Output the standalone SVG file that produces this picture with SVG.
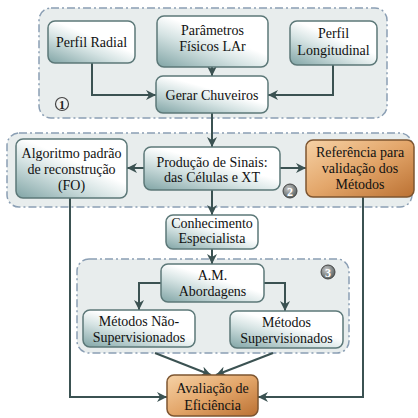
<svg xmlns="http://www.w3.org/2000/svg" width="418" height="418" viewBox="0 0 418 418">
<defs>
<linearGradient id="gNode" x1="0" y1="1" x2="0.75" y2="0.1">
<stop offset="0" stop-color="#80a4a5"/>
<stop offset="0.45" stop-color="#d5e3e3"/>
<stop offset="0.7" stop-color="#ffffff"/>
<stop offset="1" stop-color="#ffffff"/>
</linearGradient>
<linearGradient id="gOrange" x1="0" y1="0" x2="1" y2="1">
<stop offset="0" stop-color="#f6d2a6"/>
<stop offset="0.5" stop-color="#e3a66a"/>
<stop offset="1" stop-color="#bb7133"/>
</linearGradient>
<radialGradient id="gDark" cx="0.4" cy="0.35" r="0.7">
<stop offset="0" stop-color="#c8c8c8"/>
<stop offset="1" stop-color="#505a5a"/>
</radialGradient>
<marker id="arr" viewBox="0 0 10 10" refX="10" refY="5" markerWidth="5" markerHeight="5" orient="auto" markerUnits="strokeWidth">
<path d="M0,0 L10,5 L0,10 L3,5 Z" fill="#3b5252"/>
</marker>
<style>
.grp{fill:#e8eded;stroke:#8b9fb4;stroke-width:1.5;stroke-dasharray:8 3 2 3;}
.node{fill:url(#gNode);stroke:#5c7878;stroke-width:1.5;}
.onode{fill:url(#gOrange);stroke:#7d5530;stroke-width:1.5;}
.lbl{font-family:"Liberation Serif","Times New Roman",serif;font-size:14px;fill:#111;text-anchor:middle;}
.con{fill:none;stroke:#3b5252;stroke-width:2;marker-end:url(#arr);}
.num{font-family:"Liberation Serif",serif;font-size:12px;text-anchor:middle;font-weight:bold;}
</style>
</defs>

<g id="group1">
<rect class="grp" x="39" y="8" width="348" height="110" rx="12"/>
<circle cx="62" cy="104" r="6.5" fill="#eef0f0" stroke="#444" stroke-width="1.2"/>
<text class="num" x="62" y="108.5" fill="#222">1</text>
</g>
<g id="group2">
<rect class="grp" x="7" y="133" width="405" height="74" rx="12"/>
<circle cx="290" cy="191" r="7" fill="url(#gDark)" stroke="#444" stroke-width="1"/>
<text class="num" x="290" y="195.5" fill="#fff">2</text>
</g>
<g id="group3">
<rect class="grp" x="77" y="259" width="272" height="94" rx="12"/>
<circle cx="328" cy="272" r="7" fill="url(#gDark)" stroke="#444" stroke-width="1"/>
<text class="num" x="328" y="276.5" fill="#fff">3</text>
</g>

<g id="connectors">
<path class="con" d="M92,63 V95 H156"/>
<path class="con" d="M212,67 V76"/>
<path class="con" d="M333,65 V95 H268"/>
<path class="con" d="M212,113 V147"/>
<path class="con" d="M144,168 H127"/>
<path class="con" d="M280,168 H306"/>
<path class="con" d="M212,190 V215"/>
<path class="con" d="M212,249 V264"/>
<path class="con" d="M161,283 H139 V310"/>
<path class="con" d="M264,283 H285 V311"/>
<path class="con" d="M155,353 L211,375"/>
<path class="con" d="M273,353 L216,375"/>
<path class="con" d="M70,198 V397 H167"/>
<path class="con" d="M363,197 V397 H258"/>
</g>

<g id="perfil-radial">
<rect class="node" x="48" y="21" width="87" height="42" rx="7"/>
<text class="lbl" x="91.5" y="46.5">Perfil Radial</text>
</g>
<g id="parametros">
<rect class="node" x="157" y="16" width="111" height="51" rx="7"/>
<text class="lbl" x="212.5" y="34.5">Parâmetros</text>
<text class="lbl" x="212.5" y="50.5">Físicos LAr</text>
</g>
<g id="perfil-longitudinal">
<rect class="node" x="290" y="21" width="87" height="44" rx="7"/>
<text class="lbl" x="333.5" y="37.5">Perfil</text>
<text class="lbl" x="333.5" y="54.5">Longitudinal</text>
</g>
<g id="gerar-chuveiros">
<rect class="node" x="156" y="76" width="112" height="37" rx="7"/>
<text class="lbl" x="212" y="99.5">Gerar Chuveiros</text>
</g>
<g id="algoritmo">
<rect class="node" x="16" y="139" width="111" height="59" rx="7"/>
<text class="lbl" x="71.5" y="157.5">Algoritmo padrão</text>
<text class="lbl" x="71.5" y="173.5">de reconstrução</text>
<text class="lbl" x="71.5" y="189.5">(FO)</text>
</g>
<g id="producao">
<rect class="node" x="144" y="147" width="136" height="43" rx="7"/>
<text class="lbl" x="212" y="166.5">Produção de Sinais:</text>
<text class="lbl" x="212" y="181.5">das Células e XT</text>
</g>
<g id="referencia">
<rect class="onode" x="306" y="140" width="108" height="57" rx="7"/>
<text class="lbl" x="360" y="157">Referência para</text>
<text class="lbl" x="360" y="173">validação dos</text>
<text class="lbl" x="360" y="189">Métodos</text>
</g>
<g id="conhecimento">
<rect class="node" x="166" y="215" width="92" height="34" rx="7"/>
<text class="lbl" x="212" y="228">Conhecimento</text>
<text class="lbl" x="212" y="243">Especialista</text>
</g>
<g id="abordagens">
<rect class="node" x="161" y="264" width="103" height="38" rx="7"/>
<text class="lbl" x="212.5" y="279.5">A.M.</text>
<text class="lbl" x="212.5" y="295.5">Abordagens</text>
</g>
<g id="nao-supervisionados">
<rect class="node" x="83" y="310" width="112" height="37" rx="7"/>
<text class="lbl" x="139" y="325.5">Métodos Não-</text>
<text class="lbl" x="139" y="341.5">Supervisionados</text>
</g>
<g id="supervisionados">
<rect class="node" x="230" y="311" width="113" height="37" rx="7"/>
<text class="lbl" x="286.5" y="326.5">Métodos</text>
<text class="lbl" x="286.5" y="342.5">Supervisionados</text>
</g>
<g id="avaliacao">
<rect class="onode" x="167" y="375" width="91" height="41" rx="7"/>
<text class="lbl" x="212.5" y="392.5">Avaliação de</text>
<text class="lbl" x="212.5" y="409.5">Eficiência</text>
</g>
</svg>
